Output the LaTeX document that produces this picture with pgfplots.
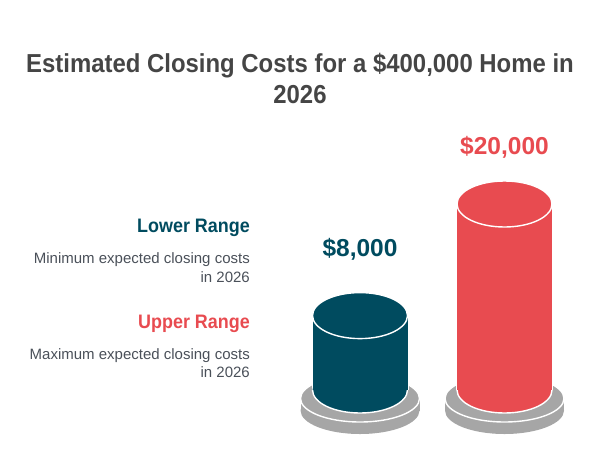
\documentclass[border=0pt]{standalone}
\usepackage{fontspec}
\setmainfont{Liberation Sans}[BoldFeatures={FakeStretch=0.92}]
\newfontfamily\numfont{Liberation Sans}
\usepackage{pgfplots}
\pgfplotsset{compat=1.18}

\definecolor{lowc}{HTML}{004B5F}
\definecolor{highc}{HTML}{E84B50}
\definecolor{discgray}{HTML}{A6A6A6}
\definecolor{titlegray}{HTML}{454545}
\definecolor{bodygray}{HTML}{4A5059}

% grey stand under a cylinder, plus the rounded bottom of the cylinder (#2)
\newcommand\declarebase[2]{%
  \pgfdeclareplotmark{#1}{%
    \pgfpathellipse{\pgfpoint{0pt}{-20.5pt}}{\pgfpoint{59.5pt}{0pt}}{\pgfpoint{0pt}{23.5pt}}%
    \pgfsetfillcolor{discgray}\pgfusepath{fill}%
    \pgfpathrectanglecorners{\pgfpoint{-59.5pt}{-20.5pt}}{\pgfpoint{59.5pt}{-8.5pt}}%
    \pgfusepath{fill}%
    \pgfpathellipse{\pgfpoint{0pt}{-8.5pt}}{\pgfpoint{59.5pt}{0pt}}{\pgfpoint{0pt}{23.5pt}}%
    \pgfsetstrokecolor{white}\pgfsetlinewidth{1.4pt}\pgfusepath{fill,stroke}%
    \pgfsetlinewidth{2pt}%
    \pgfpathmoveto{\pgfpoint{-47.5pt}{0pt}}\pgfpathlineto{\pgfpoint{-47.5pt}{10pt}}%
    \pgfpathmoveto{\pgfpoint{47.5pt}{0pt}}\pgfpathlineto{\pgfpoint{47.5pt}{10pt}}%
    \pgfusepath{stroke}%
    \pgfpathellipse{\pgfpointorigin}{\pgfpoint{47.5pt}{0pt}}{\pgfpoint{0pt}{23pt}}%
    \pgfsetfillcolor{#2}\pgfusepath{fill}%
    \pgfsetlinewidth{1.4pt}%
    \pgfpathmoveto{\pgfpoint{-47.5pt}{0pt}}%
    \pgfpatharc{180}{360}{47.5pt and 23pt}%
    \pgfusepath{stroke}%
  }}
\declarebase{baselow}{lowc}
\declarebase{basehigh}{highc}

% top of a cylinder
\pgfdeclareplotmark{cap}{%
  \pgfpathellipse{\pgfpointorigin}{\pgfpoint{47.5pt}{0pt}}{\pgfpoint{0pt}{23pt}}%
  \pgfusepathqfillstroke}

\begin{document}
\begin{tikzpicture}
\begin{axis}[
    name=ax, at={(0,0)}, anchor=south west,
    set layers=standard,
    scale only axis, width=601pt, height=453pt,
    xmin=-2.4913, xmax=1.6678,
    ymin=-6774, ymax=41936,
    hide axis, clip=false,
    /pgf/number format/fixed,
    /pgf/number format/precision=0,
    /pgf/number format/1000 sep={,},
    /pgf/number format/assume math mode=true,
]
\path (rel axis cs:0,0) rectangle (rel axis cs:1,1);

\addplot[only marks, mark=baselow, on layer=pre main, mark layer=pre main] coordinates {(0,0)};
\addplot[only marks, mark=basehigh, on layer=pre main, mark layer=pre main] coordinates {(1,0)};

% Lower Range
\addplot[
    ybar, bar width=95pt, bar shift=0pt,
    fill=lowc, draw=none,
    mark=cap, mark options={fill=lowc, draw=white, line width=1.4pt},
    nodes near coords={\$\pgfmathprintnumber{\pgfplotspointmeta}},
    nodes near coords style={anchor=base, inner sep=0pt, yshift=59.6pt,
        text=lowc, font=\numfont\bfseries\fontsize{24.5}{28}\selectfont},
    ]
    coordinates {(0,8000)};
% Upper Range
\addplot[
    ybar, bar width=95pt, bar shift=0pt,
    fill=highc, draw=none,
    mark=cap, mark options={fill=highc, draw=white, line width=1.4pt},
    nodes near coords={\$\pgfmathprintnumber{\pgfplotspointmeta}},
    nodes near coords style={anchor=base, inner sep=0pt, yshift=50pt,
        text=highc, font=\numfont\bfseries\fontsize{24.5}{28}\selectfont},
    ]
    coordinates {(1,20000)};
\end{axis}

\node[anchor=base, inner sep=0pt, text=titlegray, font=\bfseries\fontsize{26}{30}\selectfont]
    at ([xshift=300pt,yshift=-72.7pt]ax.north west) {Estimated Closing Costs for a \$400,000 Home in};
\node[anchor=base, inner sep=0pt, text=titlegray, font=\bfseries\fontsize{26}{30}\selectfont]
    at ([xshift=300pt,yshift=-103.3pt]ax.north west) {2026};

\node[anchor=base east, inner sep=0pt, text=lowc, font=\bfseries\fontsize{19.5}{23}\selectfont]
    at ([xshift=250pt,yshift=-232pt]ax.north west) {Lower Range};
\node[anchor=base east, inner sep=0pt, text=bodygray, font=\fontsize{15}{18}\selectfont]
    at ([xshift=250pt,yshift=-263pt]ax.north west) {Minimum expected closing costs};
\node[anchor=base east, inner sep=0pt, text=bodygray, font=\fontsize{15}{18}\selectfont]
    at ([xshift=250pt,yshift=-282pt]ax.north west) {in 2026};

\node[anchor=base east, inner sep=0pt, text=highc, font=\bfseries\fontsize{19.5}{23}\selectfont]
    at ([xshift=250pt,yshift=-328pt]ax.north west) {Upper Range};
\node[anchor=base east, inner sep=0pt, text=bodygray, font=\fontsize{15}{18}\selectfont]
    at ([xshift=250pt,yshift=-359pt]ax.north west) {Maximum expected closing costs};
\node[anchor=base east, inner sep=0pt, text=bodygray, font=\fontsize{15}{18}\selectfont]
    at ([xshift=250pt,yshift=-377pt]ax.north west) {in 2026};
\end{tikzpicture}
\end{document}
